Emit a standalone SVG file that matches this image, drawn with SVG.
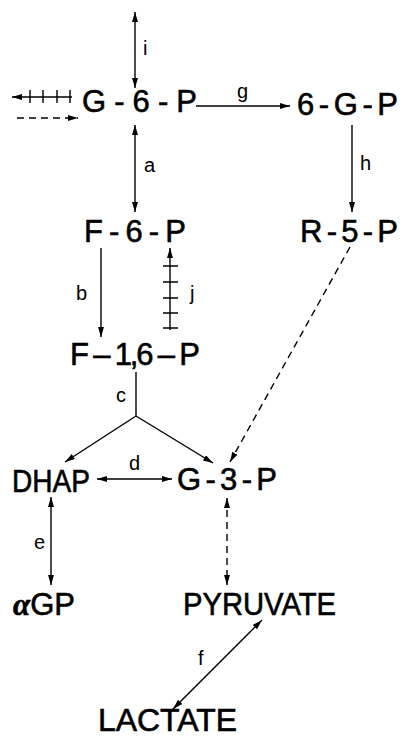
<svg xmlns="http://www.w3.org/2000/svg" width="401" height="739" viewBox="0 0 401 739">
<style>
.n{font-family:"Liberation Sans",Arial,sans-serif;font-size:31px;fill:#000;stroke:#000;stroke-width:0.6}
.l{font-family:"Liberation Sans",Arial,sans-serif;font-size:20px;fill:#000}
.c line,.c path{stroke:#000;stroke-width:1.4;fill:none}
.d{stroke-dasharray:7 5}
</style>
<defs>
<marker id="ah" viewBox="0 0 10 6" refX="10" refY="3" markerWidth="10" markerHeight="6" markerUnits="userSpaceOnUse" orient="auto-start-reverse">
<path d="M0,0 L10,3 L0,6 z" fill="#000"/>
</marker>
</defs>
<rect width="401" height="739" fill="#fff"/>
<g class="c" id="connectors">
<line x1="135" y1="12" x2="135" y2="88" marker-start="url(#ah)" marker-end="url(#ah)"/>
<line x1="72" y1="97" x2="12" y2="97" marker-end="url(#ah)"/>
<path d="M30,90V103M43,90V103M57,90V103M70,90V103"/>
<line class="d" x1="17" y1="118" x2="78" y2="118" marker-end="url(#ah)"/>
<line x1="196" y1="106" x2="290" y2="106" marker-end="url(#ah)"/>
<line x1="135" y1="125" x2="135" y2="212" marker-start="url(#ah)" marker-end="url(#ah)"/>
<line x1="352" y1="125" x2="352" y2="212" marker-end="url(#ah)"/>
<line x1="101" y1="248" x2="101" y2="337" marker-end="url(#ah)"/>
<line x1="170" y1="330" x2="170" y2="248" marker-end="url(#ah)"/>
<path d="M163,266H178M163,282H178M163,298H178M163,313H178M163,328H178"/>
<line x1="136" y1="372" x2="136" y2="416"/>
<line x1="136" y1="416" x2="65" y2="462" marker-end="url(#ah)"/>
<line x1="136" y1="416" x2="213" y2="463" marker-end="url(#ah)"/>
<line class="d" x1="350" y1="247" x2="230" y2="462" marker-end="url(#ah)"/>
<line x1="97" y1="479" x2="172" y2="479" marker-start="url(#ah)" marker-end="url(#ah)"/>
<line x1="51" y1="497" x2="51" y2="585" marker-start="url(#ah)" marker-end="url(#ah)"/>
<line class="d" x1="227" y1="498" x2="227" y2="585" marker-start="url(#ah)" marker-end="url(#ah)"/>
<line x1="262" y1="620" x2="173" y2="709" marker-start="url(#ah)" marker-end="url(#ah)"/>
</g>
<g id="G6P"><text class="n" x="82" y="112" textLength="115" lengthAdjust="spacing">G - 6 - P</text></g>
<g id="6GP"><text class="n" x="297" y="115" textLength="101" lengthAdjust="spacing">6 - G - P</text></g>
<g id="F6P"><text class="n" x="84" y="242" textLength="102" lengthAdjust="spacing">F - 6 - P</text></g>
<g id="R5P"><text class="n" x="300" y="242" textLength="98" lengthAdjust="spacing">R - 5 - P</text></g>
<g id="F16P"><text class="n" x="70" y="365" textLength="130" lengthAdjust="spacing">F – 1,6 – P</text></g>
<g id="DHAP"><text class="n" x="12" y="492" textLength="78" lengthAdjust="spacingAndGlyphs">DHAP</text></g>
<g id="G3P"><text class="n" x="177" y="490" textLength="100" lengthAdjust="spacing">G - 3 - P</text></g>
<g id="aGP"><text class="n" x="13" y="615"><tspan font-family="Liberation Serif,serif" font-style="italic" font-weight="bold">α</tspan>GP</text></g>
<g id="PYRUVATE"><text class="n" x="183" y="615" textLength="153" lengthAdjust="spacingAndGlyphs">PYRUVATE</text></g>
<g id="LACTATE"><text class="n" x="98" y="731" font-size="30" textLength="139" lengthAdjust="spacingAndGlyphs">LACTATE</text></g>
<g id="labels">
<text class="l" x="143" y="55">i</text>
<text class="l" x="237" y="98">g</text>
<text class="l" x="144" y="172">a</text>
<text class="l" x="360" y="170">h</text>
<text class="l" x="76" y="300">b</text>
<text class="l" x="190" y="300">j</text>
<text class="l" x="116" y="402">c</text>
<text class="l" x="129" y="470">d</text>
<text class="l" x="34" y="549">e</text>
<text class="l" x="198" y="665">f</text>
</g>
</svg>
